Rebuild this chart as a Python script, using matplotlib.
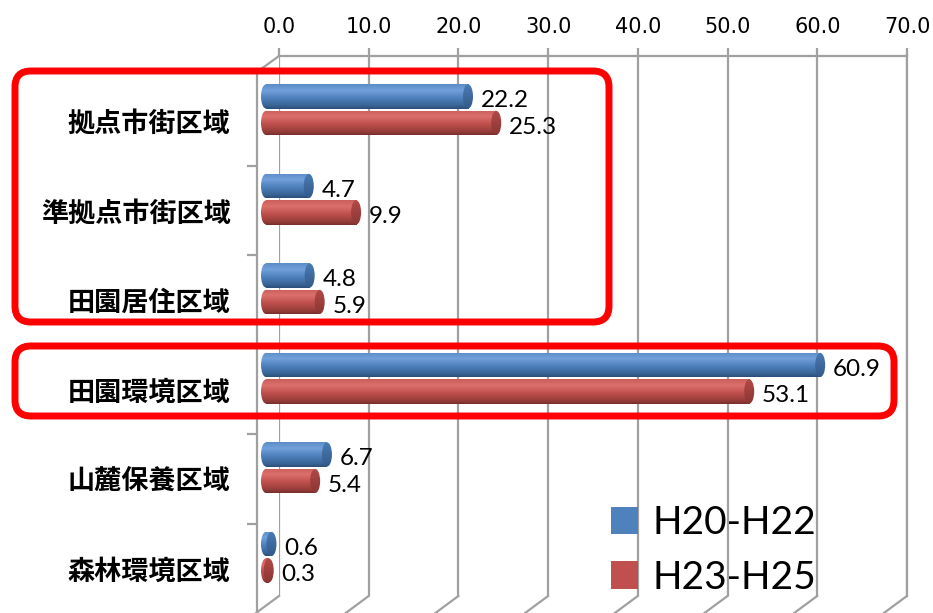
import numpy as np
import matplotlib.pyplot as plt
from matplotlib.colors import LinearSegmentedColormap
from matplotlib.patches import Ellipse, FancyBboxPatch
from matplotlib.lines import Line2D
from matplotlib.transforms import IdentityTransform

# data
categories = ['拠点市街区域', '準拠点市街区域', '田園居住区域', '田園環境区域', '山麓保養区域', '森林環境区域']
h20_h22 = [22.2, 4.7, 4.8, 60.9, 6.7, 0.6]
h23_h25 = [25.3, 9.9, 5.9, 53.1, 5.4, 0.3]
series_names = ['H20-H22', 'H23-H25']
xticks = [0, 10, 20, 30, 40, 50, 60, 70]

W, H = 933, 613
GRID = '#A0A0A0'
plt.rcParams['font.family'] = ['Lato', 'DejaVu Sans']

fig = plt.figure(figsize=(W / 100, H / 100), dpi=100)


def px_rect(x0, y0, x1, y1):
    return [x0 / W, 1 - y1 / H, (x1 - x0) / W, (y1 - y0) / H]


# back wall with gridlines and the top value axis
ax_back = fig.add_axes(px_rect(279, 56, 907, 596))
ax_back.set_xlim(0, 70)
ax_back.set_ylim(0, 1)
ax_back.set_yticks([])
ax_back.set_xticks(xticks)
ax_back.set_xticklabels([f'{t:.1f}' for t in xticks], family='DejaVu Sans', fontsize=15)
ax_back.xaxis.tick_top()
ax_back.tick_params(axis='x', length=6, width=1.6, color=GRID, pad=8)
ax_back.grid(axis='x', color=GRID, lw=1.6)
for side in ['left', 'bottom']:
    ax_back.spines[side].set_visible(False)
for side in ['top', 'right']:
    ax_back.spines[side].set_color(GRID)
    ax_back.spines[side].set_linewidth(1.6)

# floor edges and the top-left corner of the box
flip = IdentityTransform()
for t in xticks:
    xb = 279 + 8.97 * t
    fig.add_artist(Line2D([xb, xb - 23], [H - 596, H - 613], color=GRID, lw=1.6, transform=flip))
fig.add_artist(Line2D([257, 279], [H - 72, H - 56], color=GRID, lw=1.6, transform=flip))

# front plane with the cylinders
zero_px, scale = 266, 9.1
ax = fig.add_axes(px_rect(257, 72, 907, 613))
ax.patch.set_alpha(0)
ax.set_xticks([])
for side in ['top', 'right', 'bottom']:
    ax.spines[side].set_visible(False)
ax.spines['left'].set_color(GRID)
ax.spines['left'].set_linewidth(1.6)

y = np.arange(len(categories))
ax.set_yticks(y)
ax.set_yticklabels(categories, family=['Noto Sans CJK JP', 'DejaVu Sans'],
                   fontsize=19.5, fontweight='bold')
ax.tick_params(axis='y', which='major', length=0, pad=19)
ax.set_yticks(np.arange(0.5, len(categories) - 0.5), minor=True)
ax.tick_params(axis='y', which='minor', length=7, width=1.6, color=GRID)

bar_h = 0.27
blue_cmap = LinearSegmentedColormap.from_list(
    'blue_cyl', [(0, '#5C8CC8'), (0.25, '#72A0DA'), (0.55, '#4F81BD'), (0.85, '#3A6698'), (1, '#2C4F7A')])
red_cmap = LinearSegmentedColormap.from_list(
    'red_cyl', [(0, '#CC5E5B'), (0.25, '#DB706D'), (0.55, '#C0504D'), (0.85, '#993E3B'), (1, '#7A2F2D')])
blue_cap = LinearSegmentedColormap.from_list('blue_cap', ['#4A7BB6', '#34598A'])
red_cap = LinearSegmentedColormap.from_list('red_cap', ['#B44A47', '#8A3634'])
grad = np.linspace(0, 1, 64).reshape(-1, 1)
cap_w = 10 / scale


def shade(patch, cmap, x0, x1, yc, z):
    im = ax.imshow(grad, cmap=cmap, aspect='auto', origin='upper',
                   extent=(x0, x1, yc + bar_h / 2, yc - bar_h / 2), zorder=z)
    im.set_clip_path(patch)


bars = []
for vals, offs, cmap, capmap, base in [(h20_h22, -0.274, blue_cmap, blue_cap, '#4F81BD'),
                                       (h23_h25, 0.022, red_cmap, red_cap, '#C0504D')]:
    cont = ax.barh(y + offs, vals, height=bar_h, color=base, zorder=2)
    bars.append(cont)
    for rect, v in zip(cont.patches, vals):
        yc = rect.get_y() + bar_h / 2
        shade(rect, cmap, 0, v, yc, 2.1)
        left = Ellipse((0, yc), cap_w, bar_h, facecolor='none', edgecolor='none')
        ax.add_patch(left)
        shade(left, cmap, -cap_w, cap_w, yc, 2.05)
        right = Ellipse((v, yc), cap_w, bar_h, facecolor='none', edgecolor='none')
        ax.add_patch(right)
        shade(right, capmap, v - cap_w, v + cap_w, yc, 2.2)
        ax.text(v + 1.4, yc + 0.05, f'{v:.1f}', ha='left', va='center', fontsize=17.5,
                color='black', zorder=3)

ax.set_xlim((257 - zero_px) / scale, (907 - zero_px) / scale)
ax.set_ylim(5.497, -0.547)

# legend
fig.legend([bars[0], bars[1]], series_names, loc='upper left',
           bbox_to_anchor=(611 / W, 1 - 505 / H), bbox_transform=fig.transFigure,
           frameon=False, fontsize=28, handlelength=0.7, handleheight=0.7,
           handletextpad=0.36, labelspacing=0.48, borderpad=0, borderaxespad=0)

# highlight boxes around the region groups
for x0, y0, x1, y1 in [(15, 71, 609, 322), (15, 346, 894, 416)]:
    fig.add_artist(FancyBboxPatch((x0, H - y1), x1 - x0, y1 - y0,
                                  boxstyle='round,pad=0,rounding_size=16',
                                  facecolor='none', edgecolor='#FF0000', lw=5,
                                  transform=flip, zorder=10))

fig.savefig('out.png', dpi=100)
